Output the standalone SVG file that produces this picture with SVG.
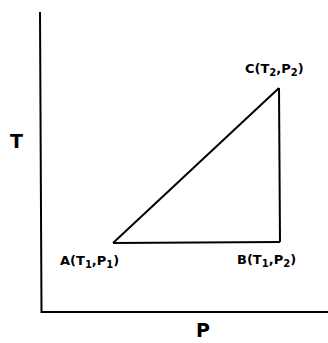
<svg xmlns="http://www.w3.org/2000/svg" width="328" height="343" viewBox="0 0 328 343">
<style>
.lbl{font-family:"DejaVu Sans",Verdana,sans-serif;font-weight:bold;font-size:13px;fill:#000}
.sub{font-size:10px}
.ax{font-family:"DejaVu Sans",Verdana,sans-serif;font-weight:bold;font-size:19px;fill:#000}
.ln{stroke:#000;stroke-width:2;fill:none}
</style>
<rect width="328" height="343" fill="#fff"/>
<g id="axes">
<polyline class="ln" points="40,12 41.5,312 328,312"/>
<text class="ax" x="10" y="148">T</text>
<text class="ax" x="196" y="337">P</text>
</g>
<g id="connectors">
<line class="ln" x1="113" y1="243" x2="279" y2="88"/>
<line class="ln" x1="279" y1="88" x2="280" y2="242"/>
<line class="ln" x1="113" y1="243" x2="280" y2="242"/>
</g>
<g id="A"><text class="lbl" x="60" y="265">A(T<tspan class="sub" dy="3">1</tspan><tspan dy="-3">,P</tspan><tspan class="sub" dy="3">1</tspan><tspan dy="-3">)</tspan></text></g>
<g id="B"><text class="lbl" x="237" y="264">B(T<tspan class="sub" dy="3">1</tspan><tspan dy="-3">,P</tspan><tspan class="sub" dy="3">2</tspan><tspan dy="-3">)</tspan></text></g>
<g id="C"><text class="lbl" x="245" y="73">C(T<tspan class="sub" dy="3">2</tspan><tspan dy="-3">,P</tspan><tspan class="sub" dy="3">2</tspan><tspan dy="-3">)</tspan></text></g>
</svg>
